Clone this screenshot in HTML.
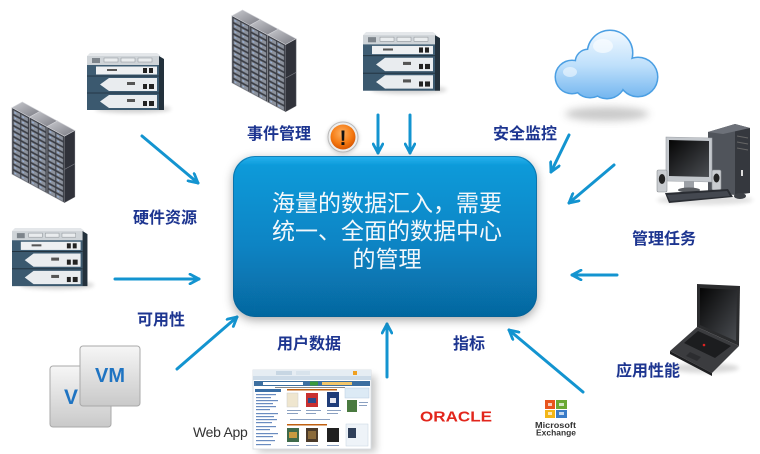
<!DOCTYPE html>
<html><head><meta charset="utf-8">
<style>
html,body{margin:0;padding:0;background:#fff;}
svg{display:block;}
</style></head>
<body>
<svg width="760" height="454" viewBox="0 0 760 454" xmlns="http://www.w3.org/2000/svg" xmlns:xlink="http://www.w3.org/1999/xlink">
<defs>
  <linearGradient id="boxg" x1="0" y1="0" x2="0" y2="1">
    <stop offset="0" stop-color="#29b3ef"/>
    <stop offset="0.06" stop-color="#0b9ad9"/>
    <stop offset="0.55" stop-color="#0884c4"/>
    <stop offset="1" stop-color="#06679f"/>
  </linearGradient>
  <linearGradient id="topg" x1="0" y1="0" x2="1" y2="1">
    <stop offset="0" stop-color="#c8c9ce"/>
    <stop offset="1" stop-color="#7c7d85"/>
  </linearGradient>
  <linearGradient id="cloudg" gradientUnits="userSpaceOnUse" x1="0" y1="31" x2="0" y2="99">
    <stop offset="0" stop-color="#f2f9ff"/>
    <stop offset="0.5" stop-color="#bfe0fb"/>
    <stop offset="1" stop-color="#72b5ef"/>
  </linearGradient>
  <linearGradient id="vmg" x1="0" y1="0" x2="0" y2="1">
    <stop offset="0" stop-color="#f6f6f6"/>
    <stop offset="1" stop-color="#c9c9c9"/>
  </linearGradient>
  <linearGradient id="scrg" x1="0" y1="0" x2="1" y2="1">
    <stop offset="0" stop-color="#050505"/>
    <stop offset="1" stop-color="#4a4d52"/>
  </linearGradient>
  <radialGradient id="orng" cx="0.45" cy="0.35" r="0.7">
    <stop offset="0" stop-color="#ffb060"/>
    <stop offset="0.6" stop-color="#f57a12"/>
    <stop offset="1" stop-color="#d24f00"/>
  </radialGradient>
  <filter id="blur2" x="-50%" y="-50%" width="200%" height="200%"><feGaussianBlur stdDeviation="2"/></filter>
  <filter id="blur4" x="-50%" y="-50%" width="200%" height="200%"><feGaussianBlur stdDeviation="4"/></filter>
  <filter id="boxsh" x="-20%" y="-30%" width="140%" height="170%">
    <feDropShadow dx="0" dy="3" stdDeviation="5" flood-color="#000" flood-opacity="0.35"/>
  </filter>
  <marker id="ah" viewBox="0 0 12 12" refX="10.5" refY="6" markerWidth="12" markerHeight="12" markerUnits="userSpaceOnUse" orient="auto">
    <path d="M1.5,1.2 L10.5,6 L1.5,10.8" fill="none" stroke="#1394d0" stroke-width="2.8" stroke-linecap="round" stroke-linejoin="round"/>
  </marker>
  <pattern id="slots" x="0" y="1" width="17" height="5.8" patternUnits="userSpaceOnUse">
    <rect width="17" height="5.8" fill="#3a3d45"/>
    <rect x="1.5" y="0.8" width="6.5" height="3.8" fill="#8c929d"/>
    <rect x="9" y="0.8" width="6.5" height="3.8" fill="#8c929d"/>
    <rect x="2.5" y="2" width="1.6" height="1.2" fill="#9ab8e6"/>
    <rect x="10" y="2" width="1.6" height="1.2" fill="#9ab8e6"/>
  </pattern>
  <g id="tower">
    <g transform="matrix(1,0.5882,0,1,0,7)"><rect width="17" height="70" fill="url(#slots)" stroke="#9a9ca2" stroke-width="0.6"/></g>
    <g transform="matrix(1,-0.6,0,1,17,17)"><rect width="10" height="70" fill="#30323a" stroke="#5d5f66" stroke-width="0.5"/><line x1="0" y1="35" x2="10" y2="35" stroke="#777980" stroke-width="0.8"/></g>
    <polygon points="0,7 10,1 27,11 17,17" fill="url(#topg)" stroke="#d2d3d8" stroke-width="0.6"/>
  </g>
  <g id="rack">
    <use href="#tower" xlink:href="#tower"/>
    <use href="#tower" xlink:href="#tower" x="17" y="10"/>
    <use href="#tower" xlink:href="#tower" x="34" y="20"/>
  </g>
  <g id="router">
    <ellipse cx="46" cy="56" rx="38" ry="4" fill="#000" opacity="0.18" filter="url(#blur2)"/>
    <polygon points="3,0 70,0 74,3 0,3" fill="#e4e7ea"/>
    <rect x="0" y="3" width="72" height="9" fill="#cfd4d8"/>
    <rect x="5" y="5" width="8" height="5" fill="#7d848b"/>
    <rect x="17" y="5" width="14" height="4" fill="#e9ecee" stroke="#8a9095" stroke-width="0.5"/>
    <rect x="34" y="5" width="14" height="4" fill="#e9ecee" stroke="#8a9095" stroke-width="0.5"/>
    <rect x="51" y="5" width="14" height="4" fill="#e9ecee" stroke="#8a9095" stroke-width="0.5"/>
    <rect x="0" y="12" width="72" height="11" fill="#3f5d73"/>
    <rect x="9" y="13.5" width="61" height="8" fill="#eef0f2"/>
    <rect x="20" y="16" width="10" height="2" fill="#555"/>
    <rect x="56" y="15" width="4" height="5" fill="#222"/>
    <rect x="62" y="15" width="4" height="5" fill="#222"/>
    <rect x="0" y="23" width="72" height="17" fill="#3b596f"/>
    <polygon points="13,31.5 22,25 70,25 70,38 22,38" fill="#e9ecef"/>
    <rect x="40" y="29" width="8" height="3" fill="#555"/>
    <rect x="56" y="31" width="4" height="5" fill="#222"/>
    <rect x="62" y="31" width="5" height="5" fill="#222"/>
    <rect x="0" y="40" width="72" height="17" fill="#3b596f"/>
    <polygon points="13,48.5 22,42 70,42 70,55 22,55" fill="#e9ecef"/>
    <rect x="40" y="46" width="8" height="3" fill="#555"/>
    <rect x="56" y="48" width="4" height="5" fill="#222"/>
    <rect x="62" y="48" width="5" height="5" fill="#222"/>
    <line x1="0" y1="23" x2="72" y2="23" stroke="#1f2e3a" stroke-width="0.8"/>
    <line x1="0" y1="40" x2="72" y2="40" stroke="#1f2e3a" stroke-width="0.8"/>
    <polygon points="72,3 77,6 77,57 72,57" fill="#23313c"/>
  </g>
</defs>

<rect width="760" height="454" fill="#fff"/>

<!-- server racks -->
<use href="#rack" xlink:href="#rack" transform="translate(12,101) scale(1.03,0.95)"/>
<use href="#rack" xlink:href="#rack" transform="translate(232,9) scale(1.05,0.96)"/>

<!-- routers -->
<use href="#router" xlink:href="#router" transform="translate(87,53)"/>
<use href="#router" xlink:href="#router" transform="translate(363,32) scale(1,1.03)"/>
<use href="#router" xlink:href="#router" transform="translate(12,228) scale(0.98,1.02)"/>

<!-- cloud -->
<ellipse cx="607" cy="114" rx="42" ry="7" fill="#8a8a8a" opacity="0.45" filter="url(#blur4)"/>
<g stroke="#4b9fe3" stroke-width="3">
  <circle cx="572" cy="77" r="16"/><circle cx="610" cy="53" r="22"/><circle cx="638" cy="77" r="19"/>
  <circle cx="607" cy="80" r="18"/><circle cx="590" cy="80" r="17"/><circle cx="588" cy="62" r="12"/>
</g>
<g fill="url(#cloudg)">
  <circle cx="572" cy="77" r="16"/><circle cx="610" cy="53" r="22"/><circle cx="638" cy="77" r="19"/>
  <circle cx="607" cy="80" r="18"/><circle cx="590" cy="80" r="17"/><circle cx="588" cy="62" r="12"/>
</g>
<ellipse cx="603" cy="46" rx="10" ry="7" fill="#fff" opacity="0.6"/>
<ellipse cx="570" cy="72" rx="7" ry="5" fill="#fff" opacity="0.5"/>

<!-- desktop PC -->
<g>
  <ellipse cx="705" cy="200" rx="48" ry="5" fill="#000" opacity="0.12" filter="url(#blur2)"/>
  <polygon points="708,132 735,124 735,195 708,192" fill="#50545b"/>
  <polygon points="735,124 750,128 750,193 735,195" fill="#35383e"/>
  <polygon points="708,132 735,124 750,128 723,134" fill="#6d7179"/>
  <line x1="737" y1="136" x2="748" y2="138" stroke="#666" stroke-width="1"/>
  <line x1="737" y1="142" x2="748" y2="144" stroke="#666" stroke-width="1"/>
  <line x1="737" y1="148" x2="748" y2="150" stroke="#666" stroke-width="1"/>
  <rect x="741" y="170" width="2" height="6" fill="#ddd"/>
  <polygon points="666,137 712,138 712,182 666,181" fill="#c4c8cd" stroke="#9ca0a6" stroke-width="0.6"/>
  <polygon points="669,140 709,141 709,177 669,176" fill="url(#scrg)"/>
  <rect x="684" y="181" width="10" height="8" fill="#9ca0a6"/>
  <ellipse cx="689" cy="190" rx="11" ry="2.5" fill="#5a5d62"/>
  <rect x="657" y="170" width="10" height="22" rx="1.5" fill="#c9ccd0" stroke="#8d9196" stroke-width="0.6"/>
  <ellipse cx="662" cy="179" rx="3.2" ry="5" fill="#222"/>
  <rect x="712" y="170" width="9" height="20" rx="1.5" fill="#c9ccd0" stroke="#8d9196" stroke-width="0.6"/>
  <ellipse cx="716.5" cy="178" rx="3" ry="4.5" fill="#222"/>
  <polygon points="665,193 728,189 733,197 669,203" fill="#2a2d33"/>
  <polygon points="667,195 727,191 730,196 670,201" fill="#444850"/>
  <ellipse cx="740" cy="196" rx="6" ry="3" fill="#3d4046"/>
</g>

<!-- laptop -->
<g>
  <ellipse cx="705" cy="368" rx="34" ry="5" fill="#000" opacity="0.15" filter="url(#blur2)"/>
  <polygon points="697,284 740,286 739,346 697,327" fill="#2b2c2e"/>
  <polygon points="700,288 737,290 736,341 700,325" fill="url(#scrg)"/>
  <polygon points="697,327 739,346 712,373 670,351" fill="#3b3c3f"/>
  <polygon points="670,351 712,373 712,376 670,354" fill="#1e1f21"/>
  <polygon points="698,331 731,346 715,358 684,343" fill="#1c1d1f"/>
  <circle cx="704" cy="345" r="1.3" fill="#d22"/>
  <polygon points="690,352 701,357 697,361 686,356" fill="#2c2d30"/>
</g>

<!-- VM icons -->
<rect x="50" y="366" width="61" height="61" rx="3" fill="url(#vmg)" stroke="#a9a9a9" stroke-width="1"/>
<text x="64" y="404" font-family="'Liberation Sans',sans-serif" font-weight="bold" font-size="21" fill="#1f74c2">V</text>
<rect x="80" y="346" width="60" height="60" rx="3" fill="url(#vmg)" stroke="#a9a9a9" stroke-width="1"/>
<text x="95" y="382" font-family="'Liberation Sans',sans-serif" font-weight="bold" font-size="20" fill="#1f74c2">VM</text>

<!-- web app -->
<g>
  <rect x="258" y="376" width="118" height="76" fill="#000" opacity="0.22" filter="url(#blur4)"/>
  <rect x="253" y="370" width="118" height="79" fill="#fff" stroke="#d5dbe1" stroke-width="0.8"/>
  <rect x="253" y="370" width="118" height="6" fill="#e6edf3"/>
  <rect x="276" y="371" width="16" height="4" fill="#c7d6e3"/>
  <rect x="296" y="371" width="14" height="4" fill="#d8e3ec"/>
  <rect x="353" y="371" width="4" height="4" fill="#f0a020"/>
  <rect x="253" y="376" width="118" height="4" fill="#cddbe8"/>
  <rect x="254" y="381" width="116" height="5" fill="#3d6fa0"/>
  <rect x="263" y="382" width="40" height="3" fill="#fff"/>
  <rect x="310" y="381.5" width="8" height="4" fill="#3a9a3a"/>
  <rect x="322" y="382" width="30" height="3" fill="#f3c66a"/>
  <rect x="275" y="387" width="70" height="1" fill="#888"/>
  <rect x="255" y="389" width="26" height="3" fill="#3a6ea5"/>
  <g fill="#6a8cc0">
    <rect x="256" y="394" width="20" height="1.2"/><rect x="256" y="397" width="15" height="1.2"/>
    <rect x="256" y="400" width="22" height="1.2"/><rect x="256" y="403" width="17" height="1.2"/>
    <rect x="256" y="406" width="20" height="1.2"/><rect x="256" y="409" width="14" height="1.2"/>
    <rect x="256" y="413" width="22" height="1.2"/><rect x="256" y="416" width="18" height="1.2"/>
    <rect x="256" y="419" width="21" height="1.2"/><rect x="256" y="422" width="16" height="1.2"/>
    <rect x="256" y="426" width="20" height="1.2"/><rect x="256" y="429" width="14" height="1.2"/>
    <rect x="256" y="433" width="22" height="1.2"/><rect x="256" y="436" width="17" height="1.2"/>
    <rect x="256" y="440" width="19" height="1.2"/><rect x="256" y="444" width="15" height="1.2"/>
  </g>
  <rect x="287" y="389" width="50" height="1.5" fill="#c06010"/>
  <rect x="287" y="393" width="11" height="14" fill="#efe6cf" stroke="#ccc" stroke-width="0.5"/>
  <rect x="306" y="393" width="12" height="14" fill="#c83030"/>
  <rect x="308" y="398" width="8" height="5" fill="#2a4a8a"/>
  <rect x="327" y="392" width="12" height="15" fill="#1f3c78"/>
  <rect x="330" y="398" width="6" height="5" fill="#e8e8f0"/>
  <g fill="#8aa0c0">
    <rect x="287" y="410" width="14" height="1"/><rect x="287" y="413" width="11" height="1"/>
    <rect x="306" y="410" width="15" height="1"/><rect x="306" y="413" width="10" height="1"/>
    <rect x="327" y="410" width="14" height="1"/><rect x="327" y="413" width="11" height="1"/>
    <rect x="290" y="419" width="40" height="1"/>
  </g>
  <rect x="345" y="388" width="24" height="10" fill="#dceaf5" stroke="#b8cde0" stroke-width="0.5"/>
  <rect x="347" y="400" width="10" height="12" fill="#4a7a40"/>
  <rect x="359" y="402" width="9" height="1" fill="#8aa0c0"/><rect x="359" y="405" width="8" height="1" fill="#8aa0c0"/>
  <rect x="287" y="424" width="40" height="1.5" fill="#c06010"/>
  <rect x="287" y="428" width="12" height="14" fill="#3e6a4a"/>
  <rect x="289" y="432" width="8" height="6" fill="#c89a40"/>
  <rect x="306" y="428" width="12" height="14" fill="#4a3a2a"/>
  <rect x="308" y="431" width="8" height="8" fill="#8a6a3a"/>
  <rect x="327" y="428" width="12" height="14" fill="#202020"/>
  <rect x="346" y="424" width="22" height="22" fill="#eef3f8" stroke="#c5d3e0" stroke-width="0.5"/>
  <rect x="348" y="428" width="8" height="10" fill="#30405a"/>
  <g fill="#8aa0c0">
    <rect x="287" y="445" width="12" height="1"/><rect x="306" y="445" width="12" height="1"/><rect x="327" y="445" width="12" height="1"/>
  </g>
</g>
<text x="193" y="437" font-family="'Liberation Sans',sans-serif" font-size="14" fill="#333" letter-spacing="-0.3">Web App</text>

<!-- Oracle -->
<text x="420" y="421.5" font-family="'Liberation Sans',sans-serif" font-weight="bold" font-size="15" fill="#e2261c" textLength="72" lengthAdjust="spacingAndGlyphs">ORACLE</text>

<!-- Microsoft Exchange -->
<g>
  <path d="M545,400 h10 v9 h-10 z" fill="#e8541c"/>
  <path d="M556,400 h11 v9 h-11 z" fill="#6aa832"/>
  <path d="M545,410 h10 v8 h-10 z" fill="#f2b619"/>
  <path d="M556,410 h11 v8 h-11 z" fill="#3a7cc8"/>
  <rect x="548" y="403" width="4" height="3" fill="#fff" opacity="0.7"/>
  <rect x="559" y="403" width="5" height="3" fill="#fff" opacity="0.7"/>
  <rect x="548" y="412" width="4" height="3" fill="#fff" opacity="0.7"/>
  <rect x="559" y="412" width="5" height="3" fill="#fff" opacity="0.7"/>
</g>
<text x="535" y="428" font-family="'Liberation Sans',sans-serif" font-weight="bold" font-size="8" fill="#333" textLength="41" lengthAdjust="spacingAndGlyphs">Microsoft</text>
<text x="536" y="435.5" font-family="'Liberation Sans',sans-serif" font-weight="bold" font-size="8" fill="#333" textLength="40" lengthAdjust="spacingAndGlyphs">Exchange</text>

<!-- arrows -->
<g stroke="#1394d0" stroke-width="3" fill="none" marker-end="url(#ah)" stroke-linecap="round">
  <line x1="142" y1="136" x2="198" y2="183"/>
  <line x1="115" y1="279" x2="199" y2="279"/>
  <line x1="177" y1="369" x2="237" y2="317"/>
  <line x1="378" y1="115" x2="378" y2="153"/>
  <line x1="410" y1="115" x2="410" y2="153"/>
  <line x1="569" y1="135" x2="551" y2="172"/>
  <line x1="614" y1="165" x2="569" y2="203"/>
  <line x1="617" y1="275" x2="572" y2="275"/>
  <line x1="583" y1="392" x2="509" y2="330"/>
  <line x1="387" y1="377" x2="387" y2="324"/>
</g>

<!-- central box -->
<rect x="233" y="156" width="304" height="161" rx="22" ry="22" fill="url(#boxg)" filter="url(#boxsh)"/>
<rect x="233.5" y="156.5" width="303" height="160" rx="22" ry="22" fill="none" stroke="#0a5f93" stroke-width="1" opacity="0.6"/>
<g font-family="'Liberation Sans','Noto Sans CJK SC',sans-serif" font-size="23" fill="#f4f8fb" text-anchor="middle">
  <text x="387" y="211">海量的数据汇入，需要</text>
  <text x="387" y="239">统一、全面的数据中心</text>
  <text x="387" y="267">的管理</text>
</g>

<!-- alert icon -->
<circle cx="343" cy="138" r="15.5" fill="#000" opacity="0.2" filter="url(#blur2)"/>
<circle cx="343" cy="137" r="15" fill="#eeeeee" stroke="#b9b9b9" stroke-width="1"/>
<circle cx="343" cy="137" r="12.5" fill="url(#orng)"/>
<text x="343" y="145" font-family="'Liberation Sans',sans-serif" font-weight="bold" font-size="21" fill="#111" text-anchor="middle">!</text>

<!-- labels -->
<g font-family="'Liberation Sans','Noto Sans CJK SC',sans-serif" font-weight="bold" font-size="16" fill="#1d3590">
  <text x="247" y="139">事件管理</text>
  <text x="493" y="139">安全监控</text>
  <text x="133" y="223">硬件资源</text>
  <text x="137" y="325">可用性</text>
  <text x="632" y="244">管理任务</text>
  <text x="616" y="376">应用性能</text>
  <text x="277" y="349">用户数据</text>
  <text x="453" y="349">指标</text>
</g>
</svg>
</body></html>
